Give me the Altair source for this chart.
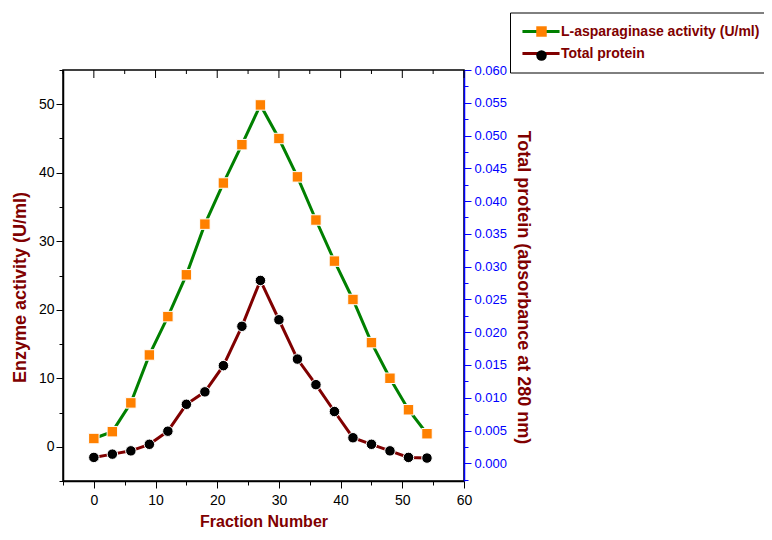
import altair as alt
import pandas as pd

# ---- data ----
fraction = [0, 3, 6, 9, 12, 15, 18, 21, 24, 27, 30, 33, 36, 39, 42, 45, 48, 51, 54]
enzyme_activity = [1.2, 2.2, 6.4, 13.4, 19.0, 25.1, 32.5, 38.5, 44.1, 49.9,
                   45.0, 39.4, 33.1, 27.1, 21.5, 15.2, 10.0, 5.4, 1.9]
total_protein = [0.0009, 0.0014, 0.0019, 0.0029, 0.0049, 0.0090, 0.0109, 0.0149, 0.0209, 0.0279,
                 0.0219, 0.0159, 0.0120, 0.0079, 0.0039, 0.0029, 0.0019, 0.0009, 0.0008]
series_names = ["L-asparaginase activity (U/ml)", "Total protein"]

x_tick_values = [-5, 0, 5, 10, 15, 20, 25, 30, 35, 40, 45, 50, 55, 60]
top_major_ticks = [0, 10, 20, 30, 40, 50, 60]
top_minor_ticks = [-5, 5, 15, 25, 35, 45, 55]
left_tick_values = [-5, 0, 5, 10, 15, 20, 25, 30, 35, 40, 45, 50, 55]
right_tick_values = [-0.0025, 0.0, 0.0025, 0.005, 0.0075, 0.01, 0.0125, 0.015, 0.0175, 0.02,
                     0.0225, 0.025, 0.0275, 0.03, 0.0325, 0.035, 0.0375, 0.04, 0.0425, 0.045,
                     0.0475, 0.05, 0.0525, 0.055, 0.0575, 0.06]

FONT = "Liberation Sans, Arial, sans-serif"
GREEN = "#008000"
ORANGE = "#FF8000"
DARKRED = "#800000"
BLUE = "#0000FF"

df_e = pd.DataFrame({"fraction": fraction, "value": enzyme_activity,
                     "s_line": series_names[0], "s_pt": series_names[0]})
df_p = pd.DataFrame({"fraction": fraction, "value": total_protein,
                     "s_line": series_names[1], "s_pt": series_names[1]})

X = alt.X(
    "fraction:Q",
    scale=alt.Scale(domain=[-5, 60], nice=False, zero=False),
    axis=alt.Axis(
        values=x_tick_values,
        labelExpr="datum.value % 10 == 0 ? datum.label : ''",
        tickSize={"condition": {"test": "datum.value % 10 == 0", "value": 7}, "value": 4},
        labelOverlap=False, labelFlush=False,
        labelFontSize=14, labelColor="black", labelPadding=5,
        domainColor="black", tickColor="black", domainWidth=1.5, tickWidth=1,
        title="Fraction Number", titleColor=DARKRED, titleFontSize=16, titleFontWeight="bold",
        titleBaseline="alphabetic", titleY=45,
    ),
)

Y_left = alt.Y(
    "value:Q",
    scale=alt.Scale(domain=[-5, 55], nice=False, zero=False),
    axis=alt.Axis(
        orient="left",
        values=left_tick_values,
        labelExpr="datum.value % 10 == 0 ? datum.label : ''",
        tickSize={"condition": {"test": "datum.value % 10 == 0", "value": 7}, "value": 4},
        labelOverlap=False, labelFlush=False,
        labelFontSize=14, labelColor="black", labelPadding=2,
        domainColor="black", tickColor="black", domainWidth=1.5, tickWidth=1,
        title="Enzyme activity (U/ml)", titleColor=DARKRED, titleFontSize=18, titleFontWeight="bold",
        titleBaseline="middle", titleX=-43, titleY=217,
    ),
)

Y_right = alt.Y(
    "value:Q",
    scale=alt.Scale(domain=[-0.0027, 0.060], nice=False, zero=False),
    axis=alt.Axis(
        orient="right",
        values=right_tick_values,
        format=".3f",
        labelExpr="round(datum.value * 10000) % 50 == 0 ? datum.label : ''",
        tickSize={"condition": {"test": "round(datum.value * 10000) % 50 == 0", "value": 7}, "value": 4},
        labelOverlap=False, labelFlush=False,
        labelFontSize=13, labelColor=BLUE, labelPadding=3,
        domainColor=BLUE, tickColor=BLUE, domainWidth=1.5, tickWidth=1,
        title="Total protein (absorbance at 280 nm)", titleColor=DARKRED, titleFontSize=18,
        titleFontWeight="bold", titleAngle=90, titleBaseline="middle", titleX=58, titleY=217,
    ),
)

stroke_scale = alt.Scale(domain=series_names, range=[GREEN, DARKRED])
fill_scale = alt.Scale(range=[ORANGE, "black"])
shape_scale = alt.Scale(range=["square", "circle"])

legend_lines = alt.Legend(
    title=None, orient="none", legendX=447, legendY=-57.5,
    symbolType="M-4,0L4,0", symbolSize=86, symbolStrokeWidth=3,
    symbolOffset=12, labelOffset=13,
    labelFont=FONT, labelFontSize=14, labelFontWeight="bold", labelColor=DARKRED, labelLimit=400,
    padding=12, rowPadding=8, strokeColor="black",
)
legend_marks = alt.Legend(
    title=None, orient="none", legendX=447, legendY=-57.5,
    symbolSize=110, symbolStrokeWidth=1, symbolStrokeColor="white",
    symbolOffset=12.5, labelOffset=13,
    labelExpr="''",
    labelFont=FONT, labelFontSize=14, labelFontWeight="bold", labelLimit=400,
    padding=12, rowPadding=8, zindex=2,
)

def series_layers(df, y_enc):
    line = alt.Chart(df).mark_line(strokeWidth=3).encode(
        x=X, y=y_enc,
        stroke=alt.Stroke("s_line:N", scale=stroke_scale, legend=legend_lines),
    )
    pts = alt.Chart(df).mark_point(filled=True, size=110, stroke="white", strokeWidth=1, opacity=1).encode(
        x=X, y=y_enc,
        fill=alt.Fill("s_pt:N", scale=fill_scale, legend=legend_marks),
        shape=alt.Shape("s_pt:N", scale=shape_scale, legend=legend_marks),
    )
    return alt.layer(line, pts)

enzyme_layer = series_layers(df_e, Y_left)
protein_layer = series_layers(df_p, Y_right)

top_major = alt.Chart(pd.DataFrame({"fraction": top_major_ticks})).mark_rule(
    color="black", strokeWidth=1).encode(x=X, y=alt.value(0), y2=alt.value(8))
top_minor = alt.Chart(pd.DataFrame({"fraction": top_minor_ticks})).mark_rule(
    color="black", strokeWidth=1).encode(x=X, y=alt.value(0), y2=alt.value(4))

chart = alt.layer(enzyme_layer, protein_layer, top_major, top_minor).resolve_scale(
    y="independent"
).properties(
    width=401, height=411,
    padding={"left": 55, "top": 62, "right": 300, "bottom": 51},
    autosize=alt.AutoSizeParams(type="none"),
    background="white",
).configure_view(
    stroke="black", strokeWidth=1.5
).configure_axis(
    grid=False, labelFont=FONT, titleFont=FONT
)

chart.save("out.html", embed_options={"renderer": "svg", "actions": False})
